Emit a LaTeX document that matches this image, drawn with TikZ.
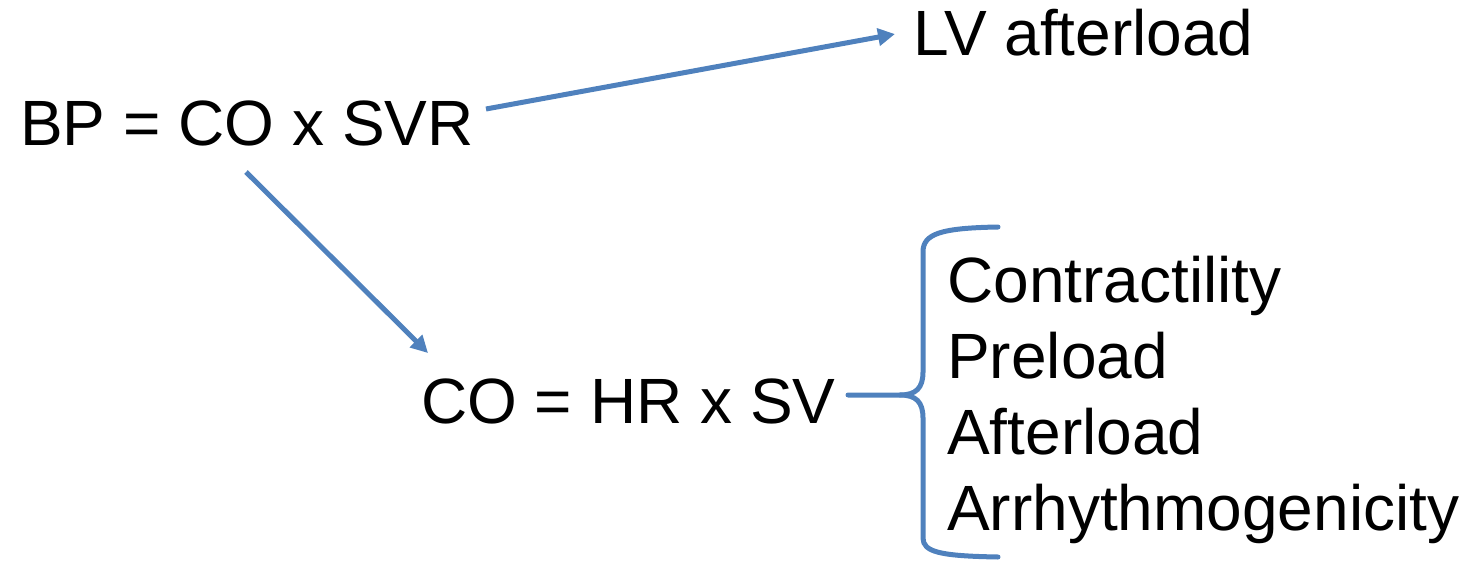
\documentclass[tikz,border=0pt]{standalone}
\usepackage{fontspec}
\setmainfont{Liberation Sans}
\usetikzlibrary{arrows.meta}
\definecolor{arrowblue}{HTML}{4F81BD}
\begin{document}
\begin{tikzpicture}[x=1pt,y=-1pt,
  lbl/.style={inner sep=0pt,anchor=base west,font=\fontsize{64}{76}\selectfont},
  conn/.style={draw=arrowblue,line width=5pt,-{Triangle[length=17pt,width=17pt]}},
  bracestyle/.style={draw=arrowblue,line width=5pt,line cap=round,line join=round}]
\useasboundingbox (0,0) rectangle (1466,567);
\node[lbl] (bp) at (20,146) {BP = CO x SVR};
\node[lbl] (lv) at (913,56) {LV afterload};
\node[lbl] (co) at (421,423) {CO = HR x SV};
\node[lbl] (c1) at (947,302) {Contractility};
\node[lbl] (c2) at (947,378) {Preload};
\node[lbl] (c3) at (947,454) {Afterload};
\node[lbl] (c4) at (947,530) {Arrhythmogenicity};
\coordinate (a1s) at (486,109);
\coordinate (a1e) at (895,34);
\coordinate (a2s) at (246,172);
\coordinate (a2e) at (428,353);
\draw[conn] (a1s) -- (a1e);
\draw[conn] (a2s) -- (a2e);
\coordinate (btip) at (848,395);
\draw[bracestyle] (btip) -- (900,395)
  .. controls (916,395) and (923,388) .. (923,372)
  -- (923,252)
  .. controls (923,234) and (940,228) .. (998,227);
\draw[bracestyle] (900,395)
  .. controls (916,395) and (923,402) .. (923,418)
  -- (923,538)
  .. controls (923,552) and (940,556) .. (998,557);
\end{tikzpicture}
\end{document}
